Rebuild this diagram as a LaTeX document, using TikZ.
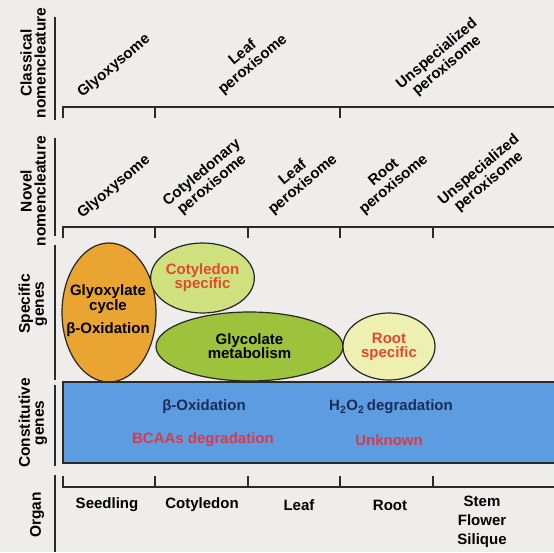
\documentclass[tikz,border=0pt]{standalone}
\usepackage{fontspec}
\setmainfont{Liberation Sans}
\usetikzlibrary{shapes.geometric}
\definecolor{bg}{HTML}{EFEDEC}
\definecolor{axis}{HTML}{2A2A2A}
\definecolor{orangefill}{HTML}{E9A431}
\definecolor{cotfill}{HTML}{CFE17E}
\definecolor{glyfill}{HTML}{9DC23C}
\definecolor{rootfill}{HTML}{EEF0B2}
\definecolor{bluefill}{HTML}{5C9DE2}
\definecolor{navy}{HTML}{1E2B58}
\definecolor{redtxt}{HTML}{E4472E}
\definecolor{crimson}{HTML}{DA3A48}
\newcommand\lbf{\fontsize{15}{15}\selectfont\bfseries}
\begin{document}
\begin{tikzpicture}[x=1pt,y=-1pt,
  lab/.style={font=\lbf, text=black, inner sep=0pt, align=center},
  sidelab/.style={lab, rotate=90, font={\fontsize{15.5}{14}\selectfont\bfseries}},
  toplab/.style={lab, rotate=40, font={\fontsize{15}{15.5}\selectfont\bfseries}},
  axisline/.style={draw=axis, line width=1.8pt},
  sep/.style={draw=axis, line width=1.6pt},
  blob/.style={ellipse, draw=black!85, line width=1.2pt, inner sep=0pt, align=center, font=\lbf},
]
\useasboundingbox (0,0) rectangle (554,552);
\fill[bg] (0,0) rectangle (554,552);

% left separators
\coordinate (s1a) at (55,17);  \coordinate (s1b) at (55,120);
\coordinate (s2a) at (55,138); \coordinate (s2b) at (55,236);
\coordinate (s3a) at (55,245); \coordinate (s3b) at (55,380);
\coordinate (s4a) at (55,385); \coordinate (s4b) at (55,466);
\coordinate (s5a) at (55,475); \coordinate (s5b) at (55,552);
\draw[sep] (s1a) -- (s1b);
\draw[sep] (s2a) -- (s2b);
\draw[sep] (s3a) -- (s3b);
\draw[sep] (s4a) -- (s4b);
\draw[sep] (s5a) -- (s5b);

% left labels
\node[sidelab] (lclass) at (33,63) {Classical\\nomencleature};
\node[sidelab] (lnovel) at (33,191) {Novel\\nomencleature};
\node[sidelab] (lspec) at (33,304) {Specific\\genes};
\node[sidelab] (lconst) at (33,423) {Constitutive\\genes};
\node[sidelab] (lorgan) at (37,515) {Organ};

% classical axis
\coordinate (c0) at (63,107); \coordinate (cE) at (556,107);
\draw[axisline] (63,118) -- (c0) -- (cE);
\foreach \x in {155,340} \draw[axisline] (\x,107) -- (\x,118);
\node[toplab] (cgly) at (114,66) {Glyoxysome};
\node[toplab] (cleaf) at (248,59) {Leaf\\peroxisome};
\node[toplab] (cuns) at (442,60) {Unspecialized\\peroxisome};

% novel axis
\coordinate (n0) at (63,227); \coordinate (nE) at (556,227);
\draw[axisline] (63,238) -- (n0) -- (nE);
\foreach \x in {155,248,340,433} \draw[axisline] (\x,227) -- (\x,238);
\node[toplab] (ngly) at (114,187) {Glyoxysome};
\node[toplab] (ncot) at (207,179) {Cotyledonary\\peroxisome};
\node[toplab] (nleaf) at (298,179) {Leaf\\peroxisome};
\node[toplab] (nroot) at (389,179) {Root\\peroxisome};
\node[toplab] (nuns) at (484,176) {Unspecialized\\peroxisome};

% specific genes ellipses
\node[blob, fill=orangefill, minimum width=94pt, minimum height=139pt] (eorange) at (109,312.5) {};
\node[lab] (tglyox) at (108,292) {Glyoxylate};
\node[lab] (tcycle) at (108,307) {cycle};
\node[lab] (tbox) at (108,330) {β-Oxidation};
\node[blob, fill=cotfill, text=redtxt, minimum width=93pt, minimum height=70pt] (ecot) at (202.5,278) {Cotyledon\\[-1pt]specific};
\node[blob, fill=glyfill, minimum width=187pt, minimum height=69pt] (egly) at (249.5,346.5) {Glycolate\\[-1pt]metabolism};
\node[blob, fill=rootfill, text=redtxt, minimum width=92pt, minimum height=67pt] (eroot) at (389,346.5) {Root\\[-1pt]specific};

% constitutive genes
\draw[fill=bluefill, draw=axis, line width=1.3pt] (63,382) rectangle (560,463);
\node[lab, text=navy] (cbox) at (204,407) {β-Oxidation};
\node[lab, text=navy] (ch2o2) at (391,407) {H\textsubscript{2}O\textsubscript{2}\,degradation};
\node[lab, text=crimson] (cbcaa) at (203,440) {BCAAs degradation};
\node[lab, text=crimson] (cunk) at (389,440) {Unknown};

% organ axis
\coordinate (o0) at (63,487); \coordinate (oE) at (556,487);
\draw[axisline] (63,476) -- (o0) -- (oE);
\foreach \x in {155,248,340,433} \draw[axisline] (\x,487) -- (\x,476);
\node[lab] (oseed) at (107,505) {Seedling};
\node[lab] (ocot) at (202,505) {Cotyledon};
\node[lab] (oleaf) at (299,505) {Leaf};
\node[lab] (oroot) at (390,505) {Root};
\node[lab, font={\fontsize{15}{19}\selectfont\bfseries}] (ostem) at (482,522) {Stem\\Flower\\Silique};
\end{tikzpicture}
\end{document}
